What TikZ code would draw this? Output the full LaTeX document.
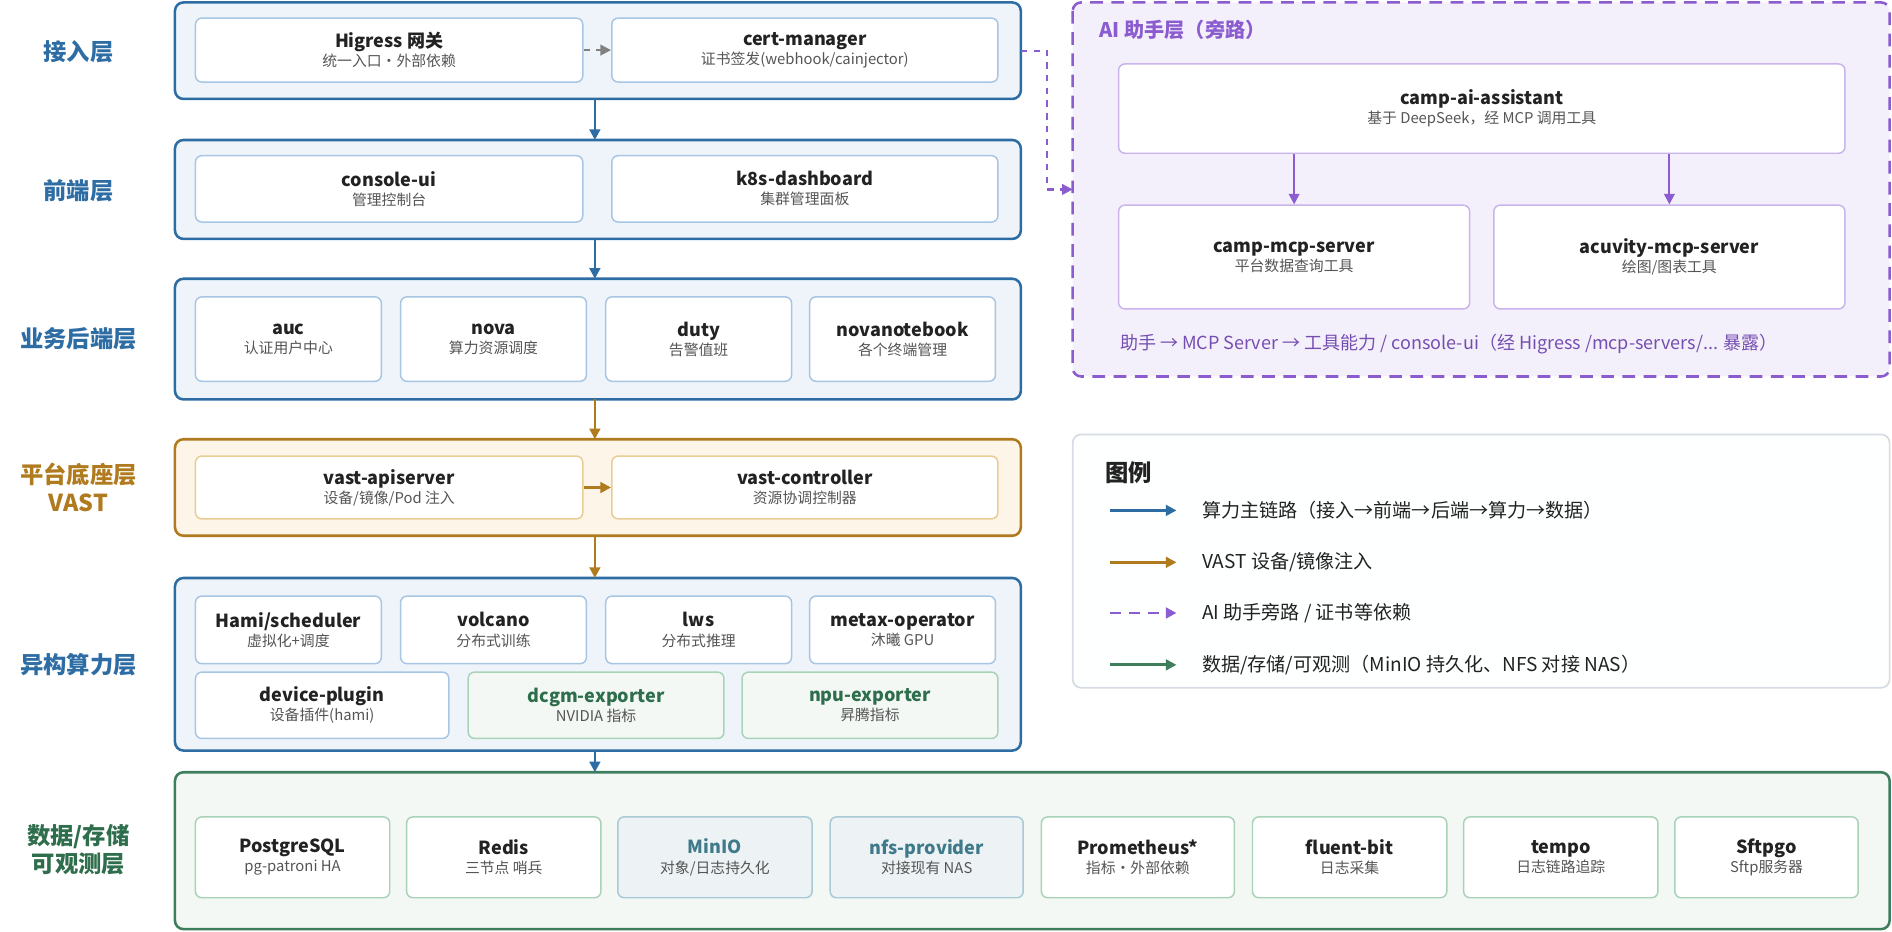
\documentclass[tikz,border=0pt]{standalone}
\usepackage{fontspec}
\setmainfont{Noto Sans CJK SC}
\usetikzlibrary{arrows.meta}
\definecolor{blueM}{HTML}{2E6DA4}
\definecolor{blueF}{HTML}{EEF4FA}
\definecolor{blueL}{HTML}{A8C6E4}
\definecolor{oraM}{HTML}{B07A1E}
\definecolor{oraF}{HTML}{FDF5E8}
\definecolor{oraL}{HTML}{E8CC94}
\definecolor{grnM}{HTML}{3D7F5C}
\definecolor{grnF}{HTML}{F3F8F4}
\definecolor{grnL}{HTML}{A9D3B8}
\definecolor{grnT}{HTML}{2F6E4C}
\definecolor{purM}{HTML}{8A5CD0}
\definecolor{purF}{HTML}{F4F0FB}
\definecolor{purL}{HTML}{C9B4EC}
\definecolor{slateF}{HTML}{EDF2F5}
\definecolor{slateT}{HTML}{3E7A8A}
\definecolor{greyL}{HTML}{D5DCE3}
\definecolor{txt}{HTML}{222222}
\definecolor{sub}{HTML}{555555}
\tikzset{
  layer/.style={draw=blueM, fill=blueF, line width=1.2pt, rounded corners=4pt},
  inbox/.style={draw=blueL, fill=white, line width=0.7pt, rounded corners=3pt, align=center, inner sep=0pt, font=\fontsize{8.5}{10}\selectfont, text=txt},
  lbl/.style={font=\fontsize{11}{13}\selectfont\bfseries, align=center},
  flow/.style={-{Triangle[length=5pt,width=5pt]}, line width=1.3pt},
  legdash/.style={dash pattern=on 5pt off 4pt},
}
\newcommand\ibox[8][]{\node[inbox,#1,minimum width={(#4-#2)*0.02cm},minimum height={(#5-#3)*0.02cm}] (#6) at ({(#2+#4)/2},{(#3+#5)/2}) {\textbf{#7}\\[-1pt]{\fontsize{7}{8}\selectfont\color{sub}#8}};}
\begin{document}
\begin{tikzpicture}[x=0.02cm, y=-0.02cm]
\useasboundingbox (0,0) rectangle (1568,772);

% layers
\draw[layer] (145,2) rectangle (846,82);
\draw[layer] (145,116) rectangle (846,198);
\draw[layer] (145,231) rectangle (846,331);
\draw[layer, draw=oraM, fill=oraF] (145,364) rectangle (846,444);
\draw[layer] (145,479) rectangle (846,622);
\draw[layer, draw=grnM, fill=grnF] (145,640) rectangle (1566,770);
\draw[layer, draw=purM, fill=purF, dashed, dash pattern=on 6pt off 4pt] (889,2) rectangle (1566,312);
\draw[rounded corners=4pt, draw=greyL, fill=white!97!blueF, line width=0.8pt] (889,360) rectangle (1566,570);

% left labels
\node[lbl, text=blueM] (l1) at (65,43) {接入层};
\node[lbl, text=blueM] (l2) at (65,158) {前端层};
\node[lbl, text=blueM] (l3) at (65,281) {业务后端层};
\node[lbl, text=oraM] (l4) at (65,404) {平台底座层\\VAST};
\node[lbl, text=blueM] (l5) at (65,551) {异构算力层};
\node[lbl, text=grnT] (l6) at (65,704) {数据/存储\\可观测层};

% access / frontend / backend
\ibox{162}{15}{483}{68}{hig}{Higress 网关}{统一入口·外部依赖}
\ibox{507}{15}{827}{68}{cert}{cert-manager}{证书签发(webhook/cainjector)}
\ibox{162}{129}{483}{184}{cui}{console-ui}{管理控制台}
\ibox{507}{129}{827}{184}{k8s}{k8s-dashboard}{集群管理面板}
\ibox{162}{246}{316}{316}{auc}{auc}{认证用户中心}
\ibox{332}{246}{486}{316}{nova}{nova}{算力资源调度}
\ibox{502}{246}{656}{316}{duty}{duty}{告警值班}
\ibox{671}{246}{825}{316}{nnb}{novanotebook}{各个终端管理}

% platform
\ibox[draw=oraL]{162}{378}{483}{430}{vapi}{vast-apiserver}{设备/镜像/Pod 注入}
\ibox[draw=oraL]{507}{378}{827}{430}{vctl}{vast-controller}{资源协调控制器}

% compute
\ibox{162}{494}{316}{550}{hami}{Hami/scheduler}{虚拟化+调度}
\ibox{332}{494}{486}{550}{volc}{volcano}{分布式训练}
\ibox{502}{494}{656}{550}{lws}{lws}{分布式推理}
\ibox{671}{494}{825}{550}{metax}{metax-operator}{沐曦 GPU}
\ibox{162}{557}{372}{612}{dplug}{device-plugin}{设备插件(hami)}
\ibox[draw=grnL, fill=grnF, text=grnT]{388}{557}{600}{612}{dcgm}{dcgm-exporter}{NVIDIA 指标}
\ibox[draw=grnL, fill=grnF, text=grnT]{615}{557}{827}{612}{npu}{npu-exporter}{昇腾指标}

% data
\ibox[draw=grnL]{162}{677}{323}{744}{pg}{PostgreSQL}{pg-patroni HA}
\ibox[draw=grnL]{337}{677}{498}{744}{redis}{Redis}{三节点 哨兵}
\ibox[draw=blueL!70!grnL, fill=slateF, text=slateT]{512}{677}{673}{744}{minio}{MinIO}{对象/日志持久化}
\ibox[draw=blueL!70!grnL, fill=slateF, text=slateT]{688}{677}{848}{744}{nfs}{nfs-provider}{对接现有 NAS}
\ibox[draw=grnL]{863}{677}{1023}{744}{prom}{Prometheus*}{指标·外部依赖}
\ibox[draw=grnL]{1038}{677}{1199}{744}{fbit}{fluent-bit}{日志采集}
\ibox[draw=grnL]{1213}{677}{1374}{744}{tempo}{tempo}{日志链路追踪}
\ibox[draw=grnL]{1388}{677}{1540}{744}{sftp}{Sftpgo}{Sftp服务器}

% AI layer
\node[anchor=west, font=\fontsize{9.5}{11}\selectfont\bfseries, text=purM] (aititle) at (905,25) {AI 助手层（旁路）};
\ibox[draw=purL]{927}{53}{1529}{127}{assist}{camp-ai-assistant}{基于 DeepSeek，经 MCP 调用工具}
\ibox[draw=purL]{927}{170}{1218}{256}{cmcp}{camp-mcp-server}{平台数据查询工具}
\ibox[draw=purL]{1238}{170}{1529}{256}{amcp}{acuvity-mcp-server}{绘图/图表工具}
\draw[flow, purM, line width=1pt] (assist.south -| cmcp) -- (cmcp);
\draw[flow, purM, line width=1pt] (assist.south -| amcp) -- (amcp);
\node[anchor=west, font=\fontsize{8.5}{10}\selectfont, text=purM!85!black] (aifoot) at (922,285) {助手 → MCP Server → 工具能力 / console-ui（经 Higress /mcp-servers/... 暴露）};

% main flow
\coordinate (c1) at (493,82); \coordinate (c2) at (493,116);
\coordinate (c3) at (493,198); \coordinate (c4) at (493,231);
\coordinate (c5) at (493,331); \coordinate (c6) at (493,364);
\coordinate (c7) at (493,444); \coordinate (c8) at (493,479);
\coordinate (c9) at (493,622); \coordinate (c10) at (493,640);
\draw[flow, blueM] (c1) -- (c2);
\draw[flow, blueM] (c3) -- (c4);
\draw[flow, oraM] (c5) -- (c6);
\draw[flow, oraM] (c7) -- (c8);
\draw[flow, blueM] (c9) -- (c10);
\draw[flow, oraM] (vapi) -- (vctl);
\draw[flow, gray, dashed, line width=1pt] (hig) -- (cert);
\coordinate (s1) at (846,42); \coordinate (s2) at (889,157);
\draw[flow, purM, dashed, line width=1pt] (s1) -- (868,42) -- (868,157) -- (s2);

% legend
\node[anchor=west, font=\fontsize{11}{13}\selectfont\bfseries, text=txt] (legt) at (910,392) {图例};
\foreach \yy/\cc/\dd/\lt [count=\i] in {423/blueM/solid/{算力主链路（接入→前端→后端→算力→数据）},
  466/oraM/solid/{VAST 设备/镜像注入},
  508/purM/legdash/{AI 助手旁路 / 证书等依赖},
  551/grnM/solid/{数据/存储/可观测（MinIO 持久化、NFS 对接 NAS）}}{
  \coordinate (la\i) at (920,\yy); \coordinate (lb\i) at (975,\yy);
  \draw[flow, \cc, \dd] (la\i) -- (lb\i);
  \node[anchor=west, font=\fontsize{9}{11}\selectfont, text=txt] (lt\i) at (990,\yy) {\lt};
}
\end{tikzpicture}
\end{document}
